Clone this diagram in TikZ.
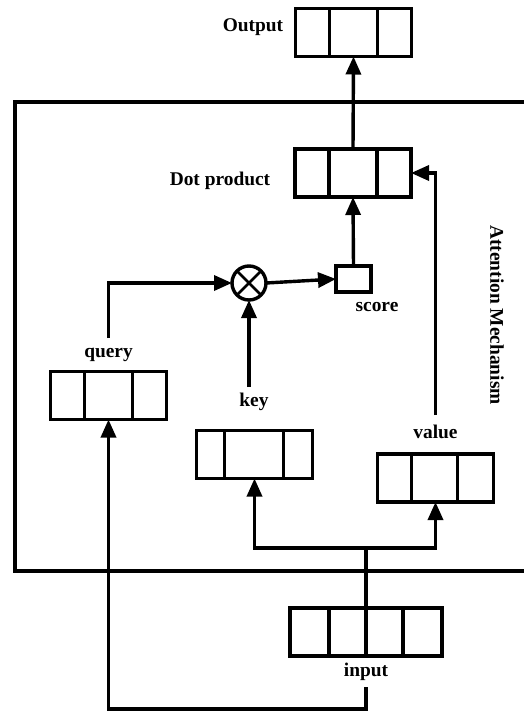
\documentclass[tikz,border=0pt]{standalone}
\usepackage{fontspec}
\setmainfont{Liberation Serif}
\usetikzlibrary{arrows.meta}

\begin{document}
\begin{tikzpicture}[x=0.5pt, y=-0.5pt, line width=1.7pt, >={Triangle[length=9pt,width=7.5pt]},
  vec/.style={draw, rectangle, outer sep=0pt, minimum width=58pt, minimum height=24pt},
  lbl/.style={font=\fontsize{9.7}{11.6}\selectfont\bfseries, inner sep=1pt}]
\path[use as bounding box] (0,0) rectangle (524,713);
% attention frame (right side runs off the page)
\draw (530,102) -- (15,102) -- (15,571) -- (530,571);
\node[lbl, rotate=-90] (att) at (497,315) {Attention Mechanism};

\node[vec] (out) at (353.5,32.5) {};
\node[vec] (dot) at (353,173) {};
\node[vec] (query) at (108.5,395.5) {};
\node[vec] (key) at (254.5,454.5) {};
\node[vec] (val) at (435.5,478) {};
\node[vec, minimum width=76pt] (inp) at (366,632) {};
\node[draw, rectangle, outer sep=0pt, minimum width=17.5pt, minimum height=13pt] (score) at (353.5,279) {};
\node[draw, circle, outer sep=0pt, minimum size=17pt, inner sep=0pt] (mult) at (249,283) {};
\draw[line width=1.4pt] (mult.45) -- (mult.225) (mult.135) -- (mult.315);

% cell dividers
\foreach \b/\d in {out/17, out/41, dot/17, dot/41, query/17, query/41, key/14, key/43.5,
  val/17, val/40, inp/19.5, inp/38, inp/56.5}
  \draw ([xshift=\d pt]\b.north west) -- ([xshift=\d pt]\b.south west);

\node[lbl] (olab) at (253,27) {Output};
\node[lbl] (dlab) at (220,181) {Dot product};
\node[lbl] (slab) at (377,307) {score};
\node[lbl] (qlab) at (108.5,355) {query};
\node[lbl] (klab) at (254,402) {key};
\node[lbl] (vlab) at (435.5,432) {value};
\node[lbl] (ilab) at (366,672) {input};

\coordinate (qtop) at (108.5,338);
\coordinate (ktop) at (249,387);
\coordinate (vtop) at (435.5,415);
\coordinate (split) at (366,548);
\coordinate (ibot) at (366,687);
\coordinate (turn) at (366,709);

\draw[->] (dot.north) -- (out.south);
\draw[->] (score.north) -- (dot.south);
\draw[->] (mult.east) -- (score.west);
\draw[->] (qtop) |- (mult.west);
\draw[->] (ktop) -- (mult.south);
\draw[->] (vtop) |- (dot.east);
\draw (inp.north) -- (split);
\draw[->] (split) -| (key.south);
\draw[->] (split) -| (val.south);
\draw[->] (ibot) -- (turn) -| (query.south);
\end{tikzpicture}
\end{document}
